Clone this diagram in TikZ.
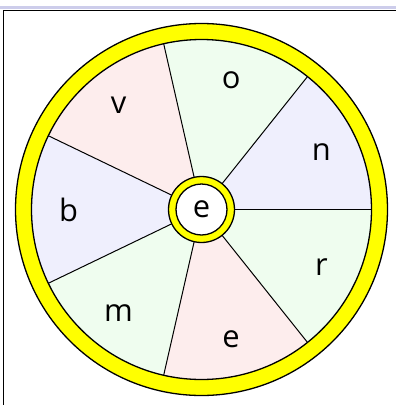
\documentclass[tikz,border=0pt]{standalone}
\usepackage{fontspec}
\setmainfont{Open Sans}
\definecolor{lav}{HTML}{EFEFFD}
\definecolor{grn}{HTML}{EFFDEF}
\definecolor{pnk}{HTML}{FDEDED}
\definecolor{band}{HTML}{CDCDEB}
\definecolor{ring}{HTML}{FFFF00}
\begin{document}
\begin{tikzpicture}[x=1bp,y=1bp,
  lbl/.style={font=\fontsize{31}{36}\selectfont, inner sep=0pt, anchor=center},
  edge/.style={line width=1.3bp, black}]
\useasboundingbox (0,0) rectangle (396,-405);
\fill[white] (0,0) rectangle (396,-405);
\fill[band] (0,-6) rectangle (396,-9.3);
\draw[line width=1.3bp] (3.5,-405) -- (3.5,-10.5) -- (396,-10.5);
\begin{scope}[shift={(201.5,-209.5)}]
  \foreach \i/\c in {0/lav,1/grn,2/pnk,3/lav,4/grn,5/pnk,6/grn}{
    \fill[\c] (0,0) -- ({\i*360/7}:170) arc[start angle={\i*360/7}, end angle={(\i+1)*360/7}, radius=170] -- cycle;
  }
  \fill[ring, even odd rule] (0,0) circle[radius=186] (0,0) circle[radius=170];
  \draw[edge] (0,0) circle[radius=186];
  \draw[edge] (0,0) circle[radius=170];
  \foreach \i in {0,...,6}{
    \draw[line width=1bp] ({\i*360/7}:33) -- ({\i*360/7}:170);
  }
  \filldraw[edge, fill=ring] (0,0) circle[radius=33];
  \filldraw[edge, fill=white] (0,0) circle[radius=25.5];
  \node[lbl] (hub) at (0,0) {e};
  \foreach \i/\t in {0/n,1/o,2/v,3/b,4/m,5/e,6/r}{
    \node[lbl] (w\i) at ({(\i+0.5)*360/7}:133) {\t};
  }
\end{scope}
\end{tikzpicture}
\end{document}
